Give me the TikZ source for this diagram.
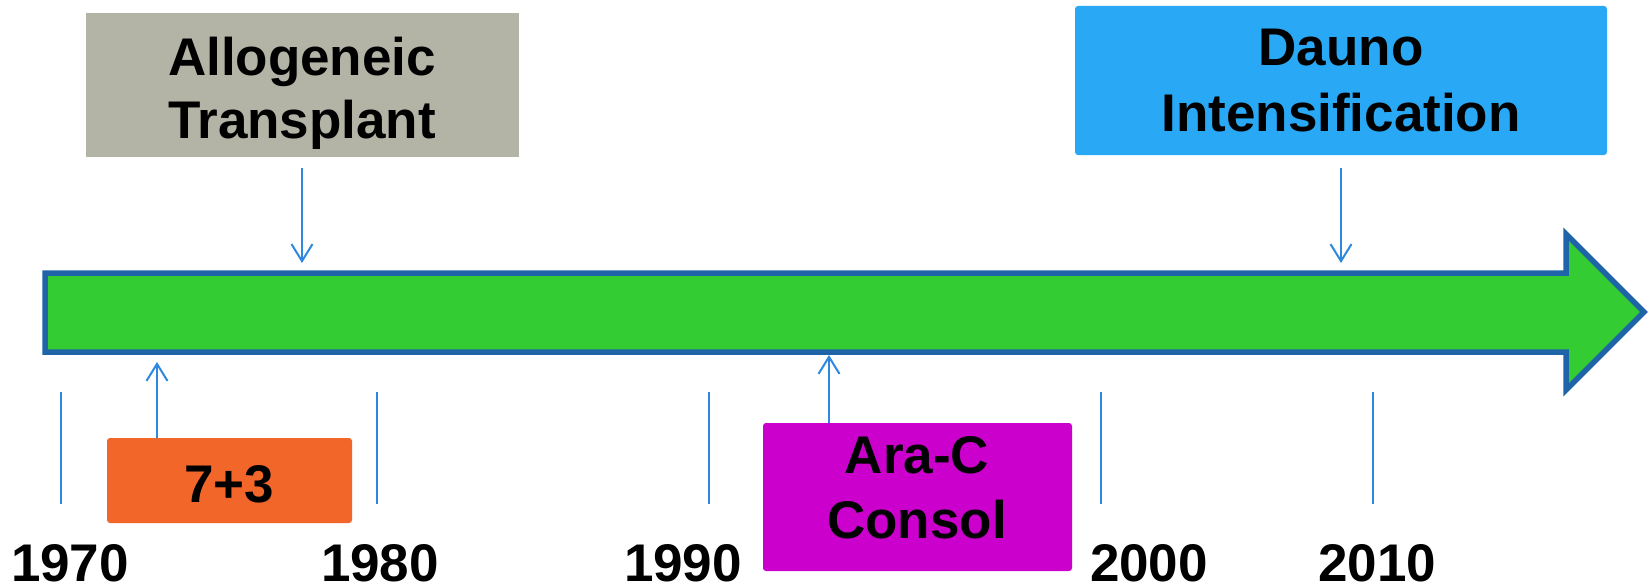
\documentclass[tikz,border=0pt]{standalone}
\usepackage{fontspec}
\setmainfont{Liberation Sans}
\usetikzlibrary{arrows.meta}
\definecolor{shaftgreen}{HTML}{33CC33}
\definecolor{shaftedge}{HTML}{1F64A8}
\definecolor{allogray}{HTML}{B3B3A6}
\definecolor{daunoblue}{HTML}{29A8F5}
\definecolor{sevenorange}{HTML}{F26629}
\definecolor{aramag}{HTML}{CC00CC}
\definecolor{linkblue}{HTML}{2E88E0}
\begin{document}
\begin{tikzpicture}[x=1pt,y=-1pt,
  box/.style={inner sep=0pt, outer sep=0pt, draw=none},
  lbl/.style={font=\fontsize{53}{63}\selectfont\bfseries, inner sep=0pt, anchor=base},
  conn/.style={draw=linkblue, line width=2pt, -{Straight Barb[length=17pt,width=21pt]}},
  tickline/.style={draw=linkblue, line width=2pt}]
\useasboundingbox (0,0) rectangle (1649,586);
\fill[white] (0,0) rectangle (1649,586);

% green timeline arrow
\draw[shaftedge, fill=shaftgreen, line width=5.5pt, line join=miter]
  (45,273) -- (1566,273) -- (1566,234) -- (1644,312) -- (1566,390) -- (1566,352) -- (45,352) -- cycle;

% boxes
\node[box, fill=allogray, minimum width=433pt, minimum height=144pt] (allo) at (302.5,85) {};
\node[box, fill=daunoblue, rounded corners=3pt, minimum width=532pt, minimum height=149pt] (dauno) at (1341,80.5) {};
\node[box, fill=sevenorange, rounded corners=3pt, minimum width=245pt, minimum height=85pt] (seven) at (229.5,480.5) {};
\node[box, fill=aramag, rounded corners=3pt, minimum width=309pt, minimum height=148pt] (ara) at (917.5,497) {};

% box texts
\node[lbl] (allo1) at (302,76) {Allogeneic};
\node[lbl] (allo2) at (302,138) {Transplant};
\node[lbl] (dauno1) at (1341,66) {Dauno};
\node[lbl] (dauno2) at (1341,131) {Intensification};
\node[lbl] (seventxt) at (229,502) {7+3};
\node[lbl] (ara1) at (917,473) {Ara-C};
\node[lbl] (ara2) at (917,538) {Consol};

% year labels
\node[lbl] (y1970) at (70,581) {1970};
\node[lbl] (y1980) at (380,581) {1980};
\node[lbl] (y1990) at (683,581) {1990};
\node[lbl] (y2000) at (1149,581) {2000};
\node[lbl] (y2010) at (1377,581) {2010};

% tick lines
\draw[tickline] (61,392) -- (61,504);
\draw[tickline] (377,392) -- (377,504);
\draw[tickline] (709,392) -- (709,504);
\draw[tickline] (1101,392) -- (1101,504);
\draw[tickline] (1373,392) -- (1373,504);

% connector end points on the timeline
\coordinate (allotip) at (302,263);
\coordinate (daunotip) at (1341,263);
\coordinate (seventip) at (157,362);
\coordinate (aratip) at (829,355);

\draw[conn, shorten <=11pt] (allo.south -| allotip) -- (allotip);
\draw[conn, shorten <=13pt] (dauno.south -| daunotip) -- (daunotip);
\draw[conn] (seven.north -| seventip) -- (seventip);
\draw[conn] (ara.north -| aratip) -- (aratip);
\end{tikzpicture}
\end{document}
